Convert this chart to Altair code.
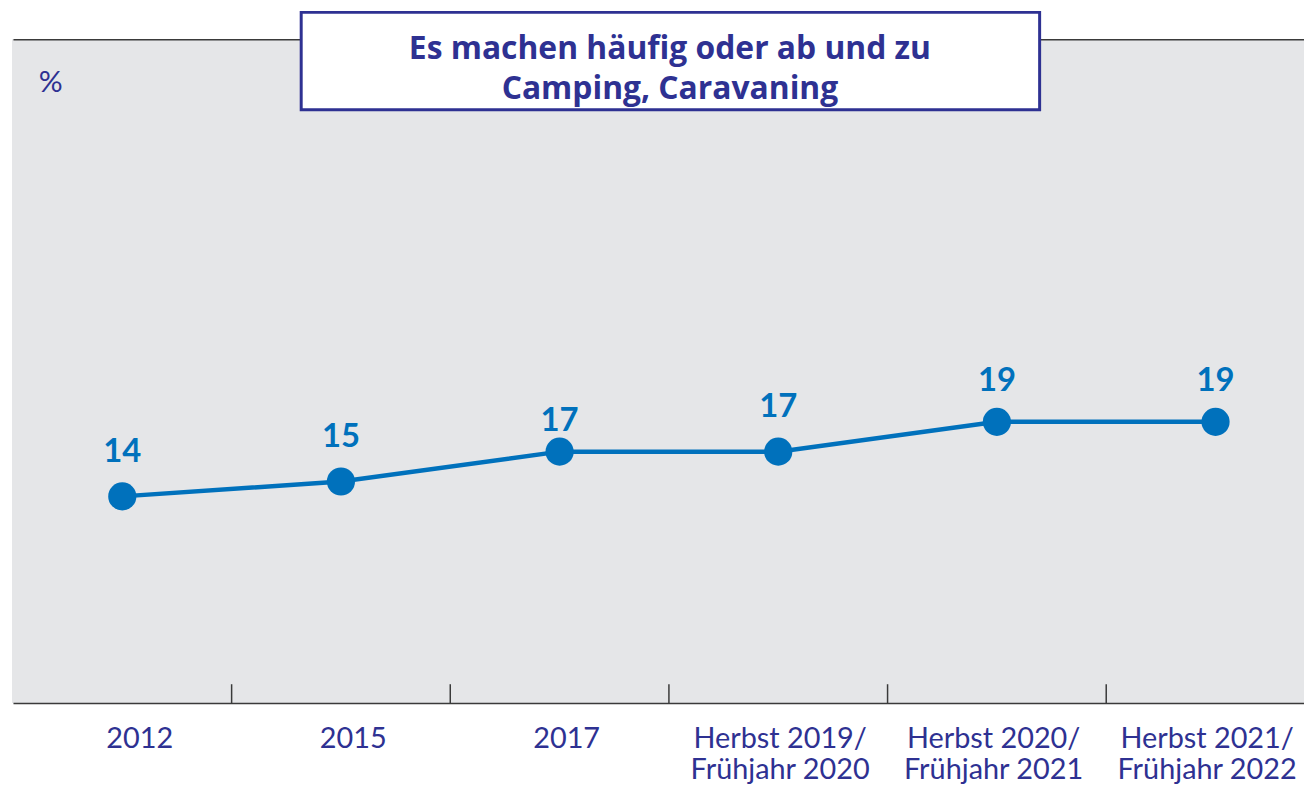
import altair as alt
import pandas as pd

# ---- data ----
categories = [
    "2012",
    "2015",
    "2017",
    "Herbst 2019/\nFrühjahr 2020",
    "Herbst 2020/\nFrühjahr 2021",
    "Herbst 2021/\nFrühjahr 2022",
]
values = [14, 15, 17, 17, 19, 19]
title_lines = ["Es machen häufig oder ab und zu", "Camping, Caravaning"]
unit_label = "%"

df = pd.DataFrame({"period": categories, "value": values})
tick_df = pd.DataFrame({"period": categories[1:]})
one = pd.DataFrame({"k": [0]})

NAVY = "#2e3192"
BLUE = "#0071bc"
GREY_BG = "#e5e6e8"
FRAME = "#3a3a3a"

W, H = 1300, 668

# point positions (band centres) and the slightly tighter label positions
xscale = alt.Scale(domain=categories, range=[1, 1321], paddingInner=0, paddingOuter=0)
label_scale = alt.Scale(domain=categories, range=[20.6, 1309.4], paddingInner=0, paddingOuter=0)
yscale = alt.Scale(domain=[0.133, 44.667], nice=False, zero=False)

x_pts = alt.X(
    "period:N", scale=xscale, sort=categories,
    axis=alt.Axis(orient="bottom", title=None, ticks=False, grid=False, labels=False,
                  domain=True, domainColor=FRAME, domainWidth=1.5),
)
x_plain = alt.X("period:N", scale=xscale, sort=categories, axis=None)
y_enc = alt.Y(
    "value:Q", scale=yscale,
    axis=alt.Axis(title=None, labels=False, ticks=False, grid=False, domain=True,
                  domainColor=FRAME, domainWidth=1.5),
)
y_plain = alt.Y("value:Q", scale=yscale, axis=None)

ticks = alt.Chart(tick_df).mark_rule(color=FRAME, strokeWidth=1.5).encode(
    x=alt.X("period:N", scale=xscale, sort=categories, bandPosition=0,
            axis=alt.Axis(orient="top", title=None, labels=False, ticks=False, grid=False,
                          domain=True, domainColor=FRAME, domainWidth=1.5)),
    y=alt.value(H - 19),
    y2=alt.value(H),
)

axis_labels = alt.Chart(df).mark_point(opacity=0).encode(
    x=alt.X("period:N", scale=label_scale, sort=categories,
            axis=alt.Axis(orient="bottom", title=None, ticks=False, grid=False, domain=False,
                          labelAngle=0, labelFont="Lato", labelFontWeight="normal",
                          labelFontSize=29, labelColor=NAVY, labelPadding=22,
                          labelLineHeight=31, labelBaseline="top", labelOverlap=False,
                          labelLimit=0,
                          labelExpr="split(datum.label, '\\n')")),
)

line = alt.Chart(df).mark_line(color=BLUE, strokeWidth=4.5).encode(x=x_pts, y=y_enc)
points = alt.Chart(df).mark_circle(size=804, color=BLUE, opacity=1).encode(x=x_plain, y=y_plain)

def labels(members, lift):
    return alt.Chart(df).mark_text(
        font="Lato", fontWeight="bold", fontSize=33, color=BLUE,
        align="center", baseline="alphabetic", dy=-lift,
    ).encode(x=x_plain, y=y_plain, text="value:Q").transform_filter(
        alt.FieldOneOfPredicate(field="period", oneOf=members)
    )

lab_a = labels([categories[0], categories[1], categories[3]], 35)
lab_b = labels([categories[2]], 21)
lab_c = labels([categories[4], categories[5]], 31)

title_box = alt.Chart(one).mark_rect(fill="white", stroke=NAVY, strokeWidth=3).encode(
    x=alt.value(291), x2=alt.value(1034), y=alt.value(-27), y2=alt.value(71)
)
title_text = alt.Chart(one).mark_text(
    text=title_lines, font="Open Sans", fontWeight="bold", fontSize=32, color=NAVY,
    align="center", baseline="top", lineHeight=40.5,
).encode(x=alt.value(662), y=alt.value(-5))
pct = alt.Chart(one).mark_text(
    text=unit_label, font="Lato", fontSize=30, color=NAVY,
    align="center", baseline="middle"
).encode(x=alt.value(39), y=alt.value(44))

chart = (
    alt.layer(axis_labels, ticks, line, points, lab_a, lab_b, lab_c, title_box, title_text, pct)
    .resolve_scale(x="independent")
    .resolve_axis(x="independent")
    .properties(
        width=W, height=H,
        padding={"left": 4, "top": 29, "right": 0, "bottom": 80},
        autosize=alt.AutoSizeParams(type="none"),
        background="white",
    )
    .configure_view(fill=GREY_BG, stroke=None)
)

chart.save("out.html", embed_options={"renderer": "svg", "actions": False})
